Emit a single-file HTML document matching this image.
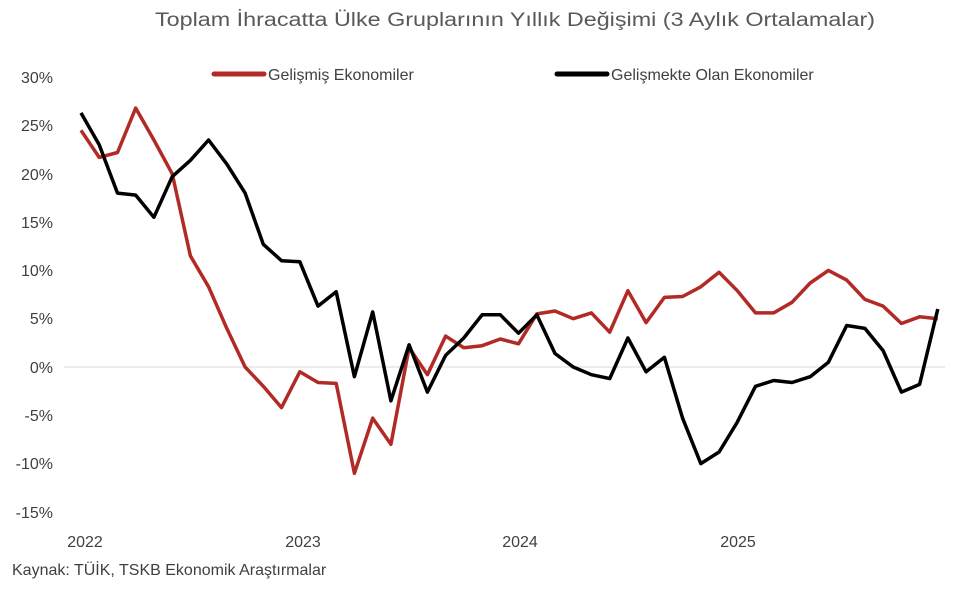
<!DOCTYPE html>
<html><head><meta charset="utf-8"><style>
html,body{margin:0;padding:0;background:#fff;}
svg{display:block;font-family:"Liberation Sans",sans-serif;}
</style></head><body>
<svg width="960" height="599" viewBox="0 0 960 599" xmlns="http://www.w3.org/2000/svg">
<rect width="960" height="599" fill="#fff"/>
<text x="515" y="26" text-anchor="middle" font-size="19" fill="#595959" textLength="720" lengthAdjust="spacingAndGlyphs">Toplam İhracatta Ülke Gruplarının Yıllık Değişimi (3 Aylık Ortalamalar)</text>
<g font-size="16" fill="#404040" text-anchor="end">
<text x="53" y="83">30%</text><text x="53" y="131">25%</text><text x="53" y="180">20%</text>
<text x="53" y="228">15%</text><text x="53" y="276">10%</text><text x="53" y="324">5%</text>
<text x="53" y="373">0%</text><text x="53" y="421">-5%</text><text x="53" y="469">-10%</text><text x="53" y="518">-15%</text>
</g>
<line x1="64" y1="367" x2="945" y2="367" stroke="#d9d9d9" stroke-width="1"/>
<g font-size="16" fill="#404040" text-anchor="middle">
<text x="85" y="547">2022</text><text x="303" y="547">2023</text><text x="520" y="547">2024</text><text x="738" y="547">2025</text>
</g>
<text x="12" y="575" font-size="16" fill="#404040">Kaynak: TÜİK, TSKB Ekonomik Araştırmalar</text>
<line x1="214" y1="74" x2="264" y2="74" stroke="#B22A25" stroke-width="5" stroke-linecap="round"/>
<text x="268" y="80" font-size="16" fill="#404040">Gelişmiş Ekonomiler</text>
<line x1="557" y1="74" x2="607" y2="74" stroke="#000" stroke-width="5" stroke-linecap="round"/>
<text x="611" y="80" font-size="16" fill="#404040">Gelişmekte Olan Ekonomiler</text>
<polyline id="r" fill="none" stroke="#B22A25" stroke-width="3.5" stroke-linejoin="round"/>
<polyline id="b" fill="none" stroke="#000" stroke-width="3.5" stroke-linejoin="round"/>
</svg>
<script>
var R=[24.5,21.7,22.2,26.8,23.5,20,11.5,8.3,4,0,-2,-4.2,-0.5,-1.6,-1.7,-11,-5.3,-8,2,-0.8,3.2,2,2.2,2.9,2.4,5.5,5.8,5,5.6,3.6,7.9,4.6,7.2,7.3,8.3,9.8,7.9,5.6,5.6,6.7,8.7,10,9,7,6.3,4.5,5.2,5];
var B=[26.3,23,18,17.8,15.5,19.7,21.4,23.5,21,18,12.7,11,10.9,6.3,7.8,-1,5.7,-3.5,2.3,-2.6,1.2,3,5.4,5.4,3.5,5.4,1.4,0,-0.8,-1.2,3,-0.5,1,-5.3,-10,-8.8,-5.7,-2,-1.4,-1.6,-1,0.5,4.3,4,1.7,-2.6,-1.8,6];
function pts(a){return a.map(function(v,i){return (81+i*18.23).toFixed(1)+","+(367-v*9.66).toFixed(1)}).join(" ")}
document.getElementById("r").setAttribute("points",pts(R));
document.getElementById("b").setAttribute("points",pts(B));
</script>
</body></html>
